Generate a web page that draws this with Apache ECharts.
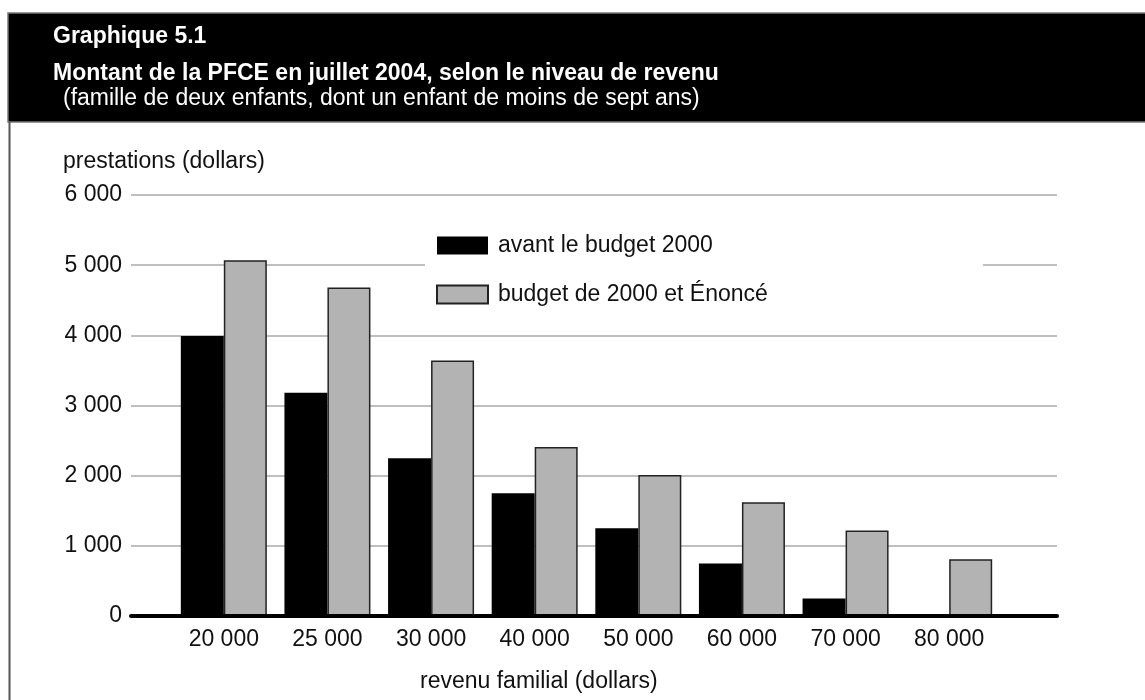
<!DOCTYPE html>
<html>
<head>
<meta charset="utf-8">
<script src="https://cdn.jsdelivr.net/npm/echarts@6/dist/echarts.min.js"></script>
<style>
  html, body { margin: 0; padding: 0; background: #fff; }
  #chart { width: 1145px; height: 700px; }
</style>
</head>
<body>
<div id="chart"></div>
<script>
// Family income levels (dollars)
const categories = ['20 000', '25 000', '30 000', '40 000', '50 000', '60 000', '70 000', '80 000'];
// Benefit amounts (dollars)
const avantBudget = [3990, 3180, 2250, 1750, 1250, 750, 250, 0];
const budget2000 = [5070, 4680, 3640, 2410, 2010, 1620, 1220, 810];
const seriesNames = ['avant le budget 2000', 'budget de 2000 et Énoncé'];
const yMin = 0, yMax = 6000, yStep = 1000;

const FONT = 'Liberation Sans, Arial, sans-serif';
const TITLE_FONT = 'Liberation Sans Narrow, Arial Narrow, sans-serif';

// thousands separated by a space: 6000 -> "6 000"
const fmt = v => String(v).replace(/\B(?=(\d{3})+(?!\d))/g, ' ');

const chart = echarts.init(document.getElementById('chart'));
chart.setOption({
  animation: false,
  backgroundColor: '#fff',
  grid: [
    { left: 131, right: 88, top: 195, bottom: 84 },   // gridlines + baseline
    { left: 172, right: 144, top: 195, bottom: 84 }   // bars + category labels
  ],
  xAxis: [
    {
      gridIndex: 0, type: 'value', min: 0, max: 1, z: 10,
      axisLine: { show: true, lineStyle: { color: '#000', width: 4 } },
      axisTick: { show: false }, axisLabel: { show: false }, splitLine: { show: false }
    },
    {
      gridIndex: 1, type: 'category', data: categories,
      axisLine: { show: false }, axisTick: { show: false },
      axisLabel: { margin: 12, fontSize: 23, color: '#111', fontFamily: FONT }
    }
  ],
  yAxis: [
    {
      gridIndex: 0, type: 'value', min: yMin, max: yMax, interval: yStep,
      axisLine: { show: false }, axisTick: { show: false },
      axisLabel: { margin: 9, fontSize: 23, color: '#111', fontFamily: FONT, formatter: fmt },
      splitLine: { lineStyle: { color: '#aaa', width: 1.5 } }
    },
    {
      gridIndex: 1, type: 'value', min: yMin, max: yMax, interval: yStep, show: false,
      splitLine: { show: false }
    }
  ],
  legend: {
    orient: 'vertical', left: 425, top: 220,
    padding: [14, 215, 14, 11],
    backgroundColor: '#fff',
    icon: 'rect',
    itemWidth: 51, itemHeight: 18, itemGap: 26,
    textStyle: { fontSize: 23, color: '#111', fontFamily: FONT, padding: [0, 0, 0, 5] },
    data: seriesNames
  },
  series: [
    {
      name: seriesNames[0], type: 'bar', xAxisIndex: 1, yAxisIndex: 1,
      data: avantBudget, barWidth: 43, barGap: '0%',
      itemStyle: { color: '#000' }
    },
    {
      name: seriesNames[1], type: 'bar', xAxisIndex: 1, yAxisIndex: 1,
      data: budget2000, barWidth: 43, barGap: '0%',
      itemStyle: { color: '#b3b3b3', borderColor: '#222', borderWidth: 1.5 }
    }
  ],
  graphic: [
    {
      type: 'rect', z: 0, silent: true,
      shape: { x: 8, y: 13, width: 1150, height: 109 },
      style: { fill: '#000', stroke: '#777', lineWidth: 1.5 }
    },
    {
      type: 'line', silent: true,
      shape: { x1: 9.5, y1: 122, x2: 9.5, y2: 700 },
      style: { stroke: '#555', lineWidth: 2 }
    },
    {
      type: 'text', left: 53, top: 25, z: 5,
      style: { text: 'Graphique 5.1', fill: '#fff', font: 'bold 23px ' + TITLE_FONT }
    },
    {
      type: 'text', left: 53, top: 62, z: 5,
      style: { text: 'Montant de la PFCE en juillet 2004, selon le niveau de revenu', fill: '#fff', font: 'bold 23px ' + TITLE_FONT }
    },
    {
      type: 'text', left: 63, top: 87, z: 5,
      style: { text: '(famille de deux enfants, dont un enfant de moins de sept ans)', fill: '#fff', font: '23px ' + FONT }
    },
    {
      type: 'text', left: 63, top: 150,
      style: { text: 'prestations (dollars)', fill: '#111', font: '23px ' + FONT }
    },
    {
      type: 'text', left: 420, top: 670,
      style: { text: 'revenu familial (dollars)', fill: '#111', font: '23px ' + FONT }
    }
  ]
});
</script>
</body>
</html>
